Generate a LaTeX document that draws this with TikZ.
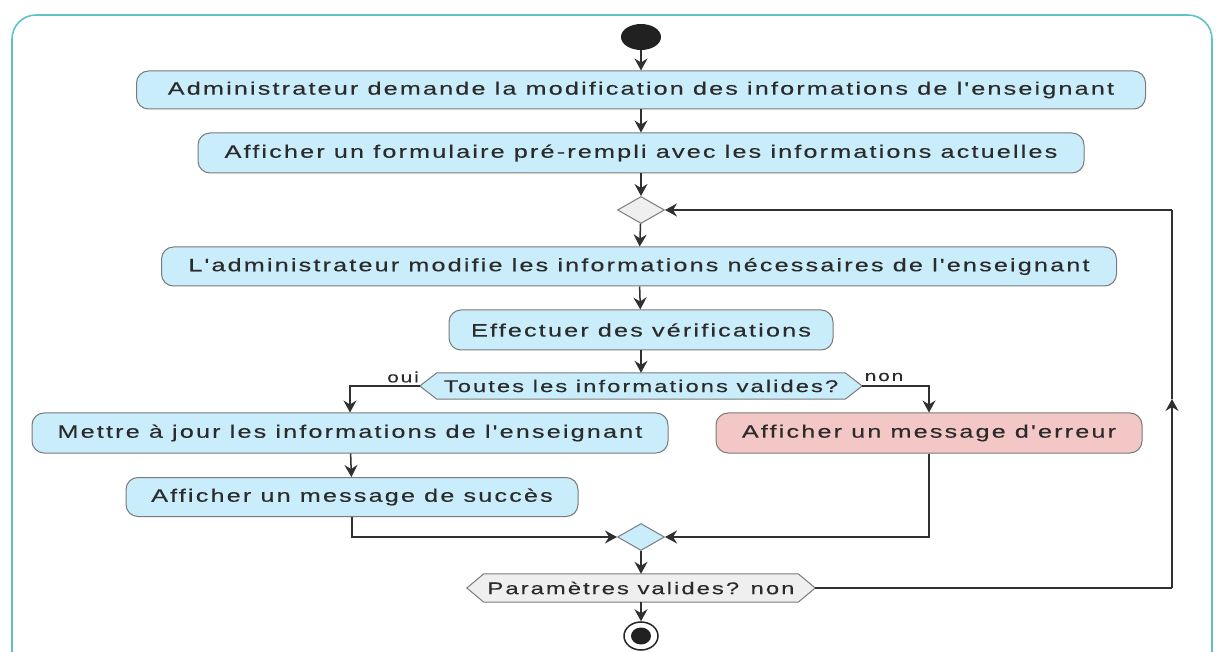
\documentclass[tikz,border=0pt]{standalone}
\usepackage{fontspec}
\setmainfont{Liberation Sans}
\newfontfamily\boxfont{Liberation Sans}[FakeStretch=1.4,LetterSpace=12,FakeBold=0.3,Ligatures=TeXOff]
\usetikzlibrary{shapes.geometric,arrows.meta,backgrounds,calc}

\definecolor{frameteal}{HTML}{5EC3C9}
\definecolor{actblue}{HTML}{C9EDFA}
\definecolor{actpink}{HTML}{F4C7C7}
\definecolor{greyfill}{HTML}{EFEFEF}
\definecolor{edge}{HTML}{7A7A7A}
\definecolor{wire}{HTML}{303030}
\definecolor{ink}{HTML}{2B2B2B}

\tikzset{
  act/.style={draw=edge, fill=actblue, rounded corners=12pt, inner sep=0pt,
    line width=1pt, text=ink, font=\boxfont\fontsize{18}{20}\selectfont},
  hexn/.style={inner sep=0pt, text=ink, font=\boxfont\fontsize{17}{19}\selectfont},
  dia/.style={diamond, draw=edge, line width=1pt, inner sep=0pt,
    minimum width=47pt, minimum height=27pt},
  arr/.style={draw=wire, line width=1.5pt,
    -{Stealth[length=12pt,width=13pt,inset=4pt]}},
  wireline/.style={draw=wire, line width=1.5pt},
  lbl/.style={text=ink, font=\boxfont\fontsize{15}{17}\selectfont, inner sep=0pt}
}

% hexagonal decision outline drawn around a plain node
\newcommand\hexpath[3]{%
  \filldraw[draw=edge, line width=1pt, fill=#3]
    (#1.west) -- ([xshift=#2]#1.north west) -- ([xshift=-#2]#1.north east)
    -- (#1.east) -- ([xshift=-#2]#1.south east) -- ([xshift=#2]#1.south west) -- cycle;}

\begin{document}
\begin{tikzpicture}[x=1pt,y=-1pt]
\useasboundingbox (0,0) rectangle (1219,652);

% outer frame
\draw[frameteal, line width=1.6pt, rounded corners=24pt] (12,15) rectangle (1212,680);

% start node
\node[ellipse, fill=black!87, minimum width=40pt, minimum height=26pt, inner sep=0pt] (start) at (641,37) {};

\node[act, minimum width=1009pt, minimum height=38pt] (a1) at (641,90)
  {Administrateur demande la modification des informations de l'enseignant};
\node[act, minimum width=886pt, minimum height=40pt] (a2) at (641,153)
  {Afficher un formulaire pré-rempli avec les informations actuelles};
\node[dia, fill=greyfill] (d1) at (641,210) {};
\node[act, minimum width=955pt, minimum height=39pt] (a3) at (639,266.5)
  {L'administrateur modifie les informations nécessaires de l'enseignant};
\node[act, minimum width=384pt, minimum height=40pt] (a4) at (641,330)
  {Effectuer des vérifications};
\node[hexn, minimum width=442pt, minimum height=26pt] (h1) at (641,386)
  {Toutes les informations valides?};
\node[act, minimum width=636pt, minimum height=40pt] (a5) at (350,433)
  {Mettre à jour les informations de l'enseignant};
\node[act, fill=actpink, minimum width=426pt, minimum height=40pt] (a6) at (929,433)
  {Afficher un message d'erreur};
\node[act, minimum width=452pt, minimum height=39pt] (a7) at (352,497)
  {Afficher un message de succès};
\node[dia, fill=actblue] (m) at (641,537) {};
\node[hexn, minimum width=348pt, minimum height=28pt] (h2) at (641,588)
  {Paramètres valides? non};
\node[ellipse, draw=black!85, line width=1.5pt, fill=white, minimum width=34pt,
  minimum height=28pt, inner sep=0pt] (stop) at (641,636) {};
\node[ellipse, fill=black!87, minimum width=20pt, minimum height=17pt, inner sep=0pt]
  (stopdot) at (stop.center) {};

\begin{scope}[on background layer]
  \hexpath{h1}{17pt}{actblue}
  \hexpath{h2}{17pt}{greyfill}
\end{scope}

% branch labels
\node[lbl] (oui) at (403,377) {oui};
\node[lbl] (non) at (884,377) {non};

% main flow
\draw[arr] (start) -- (a1);
\draw[arr] (a1) -- (a2);
\draw[arr] (a2) -- (d1);
\draw[arr] (d1) -- (a3);
\draw[arr] (a3) -- (a4);
\draw[arr] (a4) -- (h1);
\draw[arr] (h1.west) -| (a5.north);
\draw[arr] (h1.east) -| (a6.north);
\draw[arr] (a5) -- (a7);
\draw[arr] (a7.south) |- (m.west);
\draw[arr] (a6.south) |- (m.east);
\draw[arr] (m) -- (h2);
\draw[arr] (h2) -- (stop);

% loop back to the first merge point
\coordinate (loopx) at (1172,0);
\coordinate (loopbot) at (h2.east -| loopx);
\coordinate (looptop) at (d1.east -| loopx);
\coordinate (loopmid) at ($(loopbot)!0.5!(looptop)$);
\draw[wireline] (h2.east) -- (loopbot);
\draw[arr] (loopbot) -- (loopmid);
\draw[wireline] (loopmid) -- (looptop);
\draw[arr] (looptop) -- (d1.east);
\end{tikzpicture}
\end{document}
